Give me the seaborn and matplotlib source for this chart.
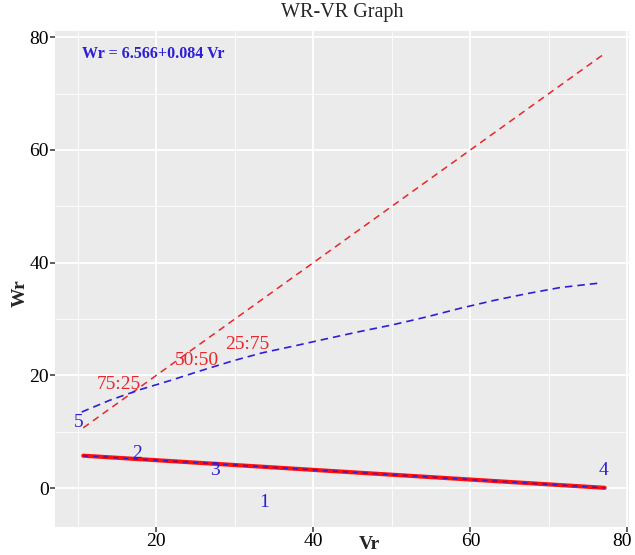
import matplotlib
matplotlib.use("Agg")
import matplotlib.pyplot as plt
import matplotlib.transforms as mtransforms
import seaborn as sns
import pandas as pd
from matplotlib.ticker import MultipleLocator

# limit line Wr = Vr
limit_vr = [10.7, 77.2]
limit_wr = [10.7, 77.2]

# fitted Wr-Vr curve (blue dashed)
curve_vr = [10.5, 14.1, 18.0, 21.8, 25.6, 29.8, 33.5, 37.5, 41.7, 46.0, 50.2, 54.5, 58.7, 63.0, 67.2, 71.5, 76.6]
curve_wr = [13.5, 15.6, 17.5, 19.1, 20.8, 22.6, 24.0, 25.2, 26.5, 27.8, 29.0, 30.4, 31.9, 33.3, 34.5, 35.6, 36.4]

# regression line
reg_vr = [10.7, 77.1]
reg_wr = [5.75, 0.05]

# parents
parent_labels = ["1", "2", "3", "4", "5"]
parent_vr = [33.8, 17.6, 27.5, 76.9, 10.1]
parent_wr = [-2.6, 6.15, 3.1, 3.2, 11.6]

# dominance ratio labels
ratio_labels = ["75:25", "50:50", "25:75"]
ratio_vr = [15.2, 25.2, 31.6]
ratio_wr = [18.3, 22.6, 25.4]

equation = "Wr = 6.566+0.084 Vr"

blue = "#2d1fd6"
red = "#e8262b"

sns.set_theme(style="darkgrid")
plt.rcParams["font.family"] = ["Liberation Serif", "DejaVu Serif"]
plt.rcParams["axes.facecolor"] = "#EBEBEB"

fig = plt.figure(figsize=(6.35, 5.55), dpi=100)
ax = fig.add_axes([55 / 635, 1 - 527 / 555, 574 / 635, 496 / 555])

sns.lineplot(x=limit_vr, y=limit_wr, ax=ax, color=red, lw=1.1, linestyle=(0, (4.5, 3.3)))
sns.lineplot(x=curve_vr, y=curve_wr, ax=ax, color=blue, lw=1.2, linestyle=(0, (4.5, 3.0)))
sns.lineplot(x=reg_vr, y=reg_wr, ax=ax, color="#ff1010", lw=3.0)
sns.lineplot(x=reg_vr, y=reg_wr, ax=ax, color=blue, lw=1.2, linestyle=(0, (3, 3)))

for lab, x, y in zip(parent_labels, parent_vr, parent_wr):
    ax.text(x, y, lab, color=blue, fontsize=14, ha="center", va="center")
for lab, x, y in zip(ratio_labels, ratio_vr, ratio_wr):
    ax.text(x, y, lab, color=red, fontsize=14, ha="center", va="center")
ax.text(10.6, 77.0, equation, color=blue, fontsize=11.5, fontweight="bold", ha="left", va="center")

ax.set_xlim(7.1, 80.2)
ax.set_ylim(-6.9, 81.1)
ax.xaxis.set_major_locator(MultipleLocator(20))
ax.yaxis.set_major_locator(MultipleLocator(20))
ax.xaxis.set_minor_locator(MultipleLocator(10))
ax.yaxis.set_minor_locator(MultipleLocator(10))
ax.grid(which="major", color="white", lw=1.3)
ax.grid(which="minor", color="white", lw=0.6)
for s in ax.spines.values():
    s.set_visible(False)
ax.tick_params(which="major", length=3.5, width=1.1, color="#333333", pad=1, labelsize=14, labelcolor="black",
               bottom=True, left=True)
ax.tick_params(which="minor", length=0)

# keep the last x label inside the image
fig.canvas.draw()
last = [t for t in ax.get_xticklabels() if t.get_text() == "80"]
for t in last:
    t.set_transform(t.get_transform() + mtransforms.ScaledTranslation(-5 / 100, 0, fig.dpi_scale_trans))

ax.set_xlabel("Vr", fontsize=14, fontweight="bold")
ax.set_ylabel("Wr", fontsize=14, fontweight="bold")
ax.xaxis.set_label_coords(0.548, -0.036)
ax.yaxis.set_label_coords(-0.061, 0.472)
ax.xaxis.label.set_va("center")
ax.yaxis.label.set_va("center")
fig.text(342 / 635, 1 - 12 / 555, "WR-VR Graph", fontsize=14.5, ha="center", va="center")

fig.savefig("out.png", dpi=100)
